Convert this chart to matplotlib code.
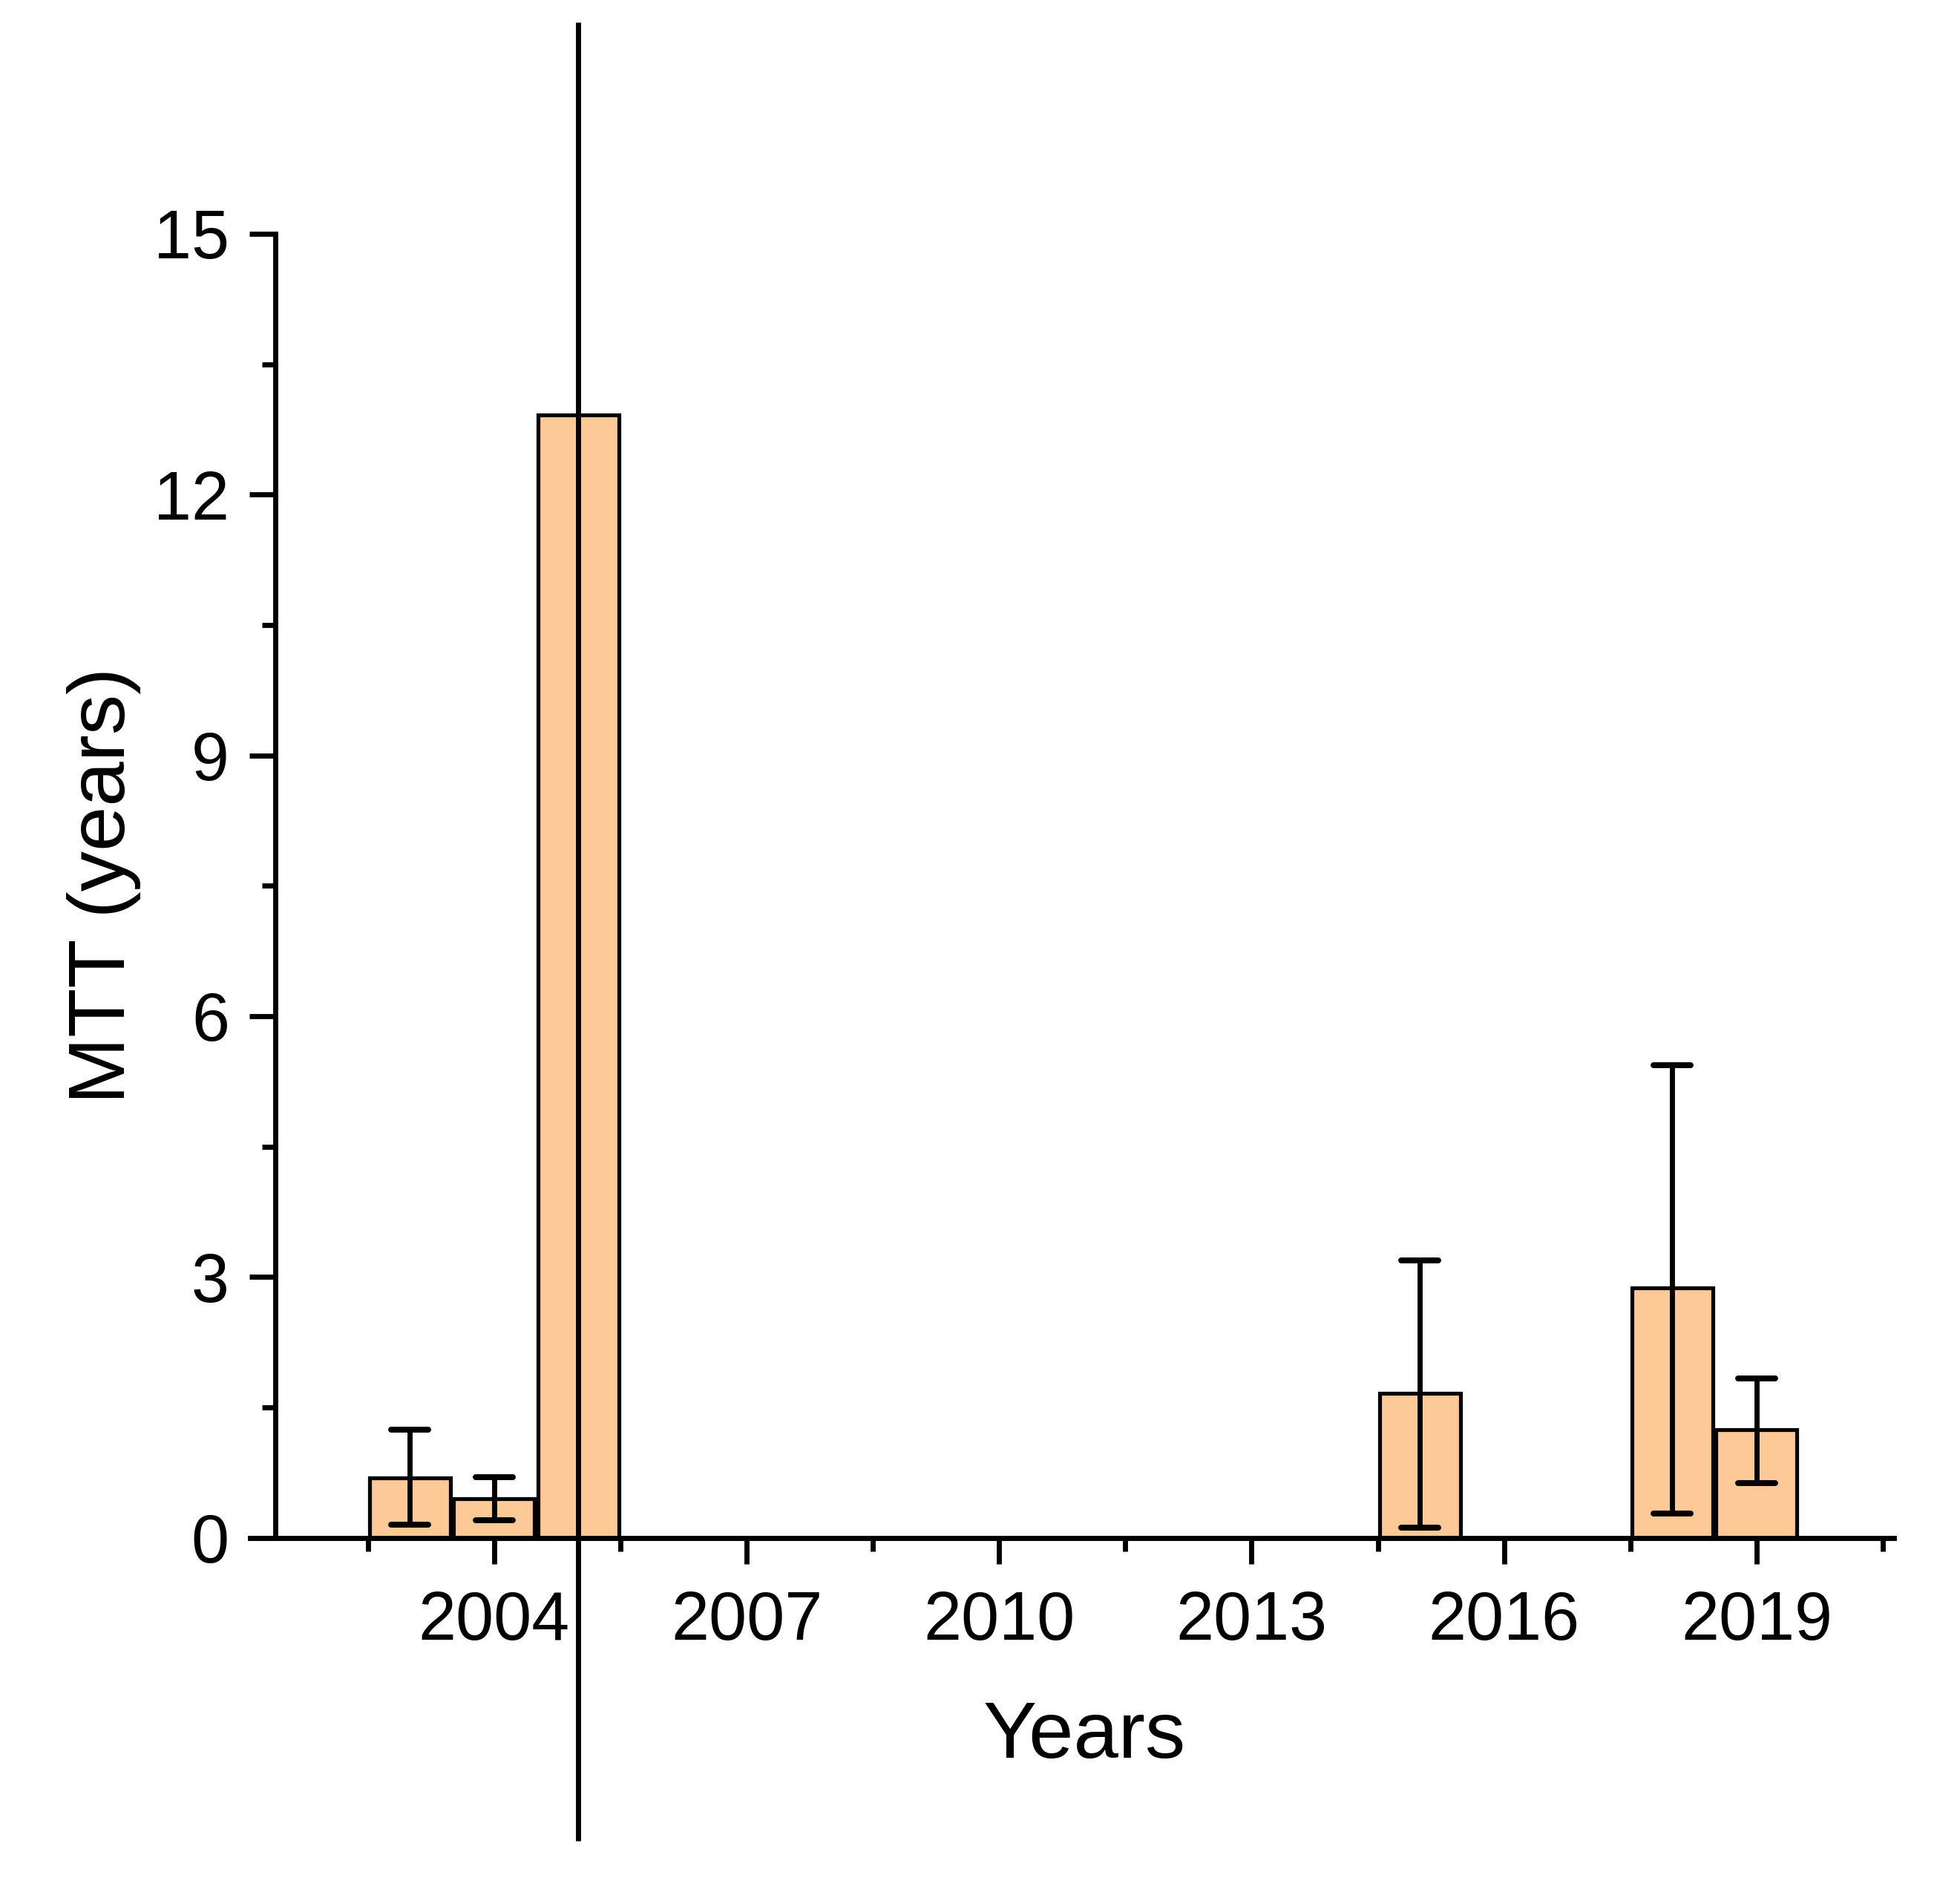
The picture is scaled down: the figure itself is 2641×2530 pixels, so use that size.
import matplotlib
matplotlib.use("Agg")
import matplotlib.pyplot as plt
from matplotlib.ticker import MultipleLocator
from matplotlib.markers import MarkerStyle
import numpy as np

plt.rcParams['font.family'] = ['Liberation Sans', 'DejaVu Sans']

years = [2003, 2004, 2005, 2015, 2018, 2019]
mtt = [0.69, 0.45, 12.92, 1.66, 2.87, 1.24]
err_low = [0.15, 0.20, -3.49, 0.12, 0.28, 0.63]
err_high = [1.24, 0.70, 17.43, 3.19, 5.44, 1.83]

xlabel = "Years"
ylabel = "MTT (years)"
bar_color = "#FDCA97"

fig = plt.figure(figsize=(2641 / 300, 2530 / 300), dpi=300)
ax = fig.add_axes([0.1276, 0.1812, 0.9662 - 0.1276, 0.8755 - 0.1812])

ax.bar(years, mtt, width=0.96, color=bar_color, edgecolor="black", linewidth=1.25, zorder=2)

y = np.array(mtt)
lo = y - np.array(err_low)
hi = np.array(err_high) - y
yrs = np.array(years)
big = y > 10
_, caps, _ = ax.errorbar(yrs[~big], y[~big], yerr=[lo[~big], hi[~big]], fmt="none", ecolor="black",
                         elinewidth=1.65, capsize=6.0, capthick=1.9, zorder=3)
for c in caps:
    c.set_marker(MarkerStyle('_', capstyle='round'))
ax.errorbar(yrs[big], y[big], yerr=[lo[big], hi[big]], fmt="none", ecolor="black",
            elinewidth=1.65, capsize=0, zorder=3, clip_on=False)

ax.set_xlim(2001.1, 2020.63)
ax.set_ylim(0, 15)
ax.spines['top'].set_visible(False)
ax.spines['right'].set_visible(False)
ax.spines['left'].set_position(('data', 2001.4))
for s in ('left', 'bottom'):
    ax.spines[s].set_linewidth(1.65)
    ax.spines[s].set_zorder(4)

ax.xaxis.set_major_locator(MultipleLocator(3))
ax.xaxis.set_minor_locator(MultipleLocator(1.5))
ax.yaxis.set_major_locator(MultipleLocator(3))
ax.yaxis.set_minor_locator(MultipleLocator(1.5))
ax.tick_params(which='major', direction='out', length=8.4, width=1.65, labelsize=22)
ax.tick_params(which='minor', direction='out', length=4.3, width=1.65)
ax.tick_params(axis='x', which='major', pad=8.5)
ax.tick_params(axis='y', which='major', pad=6.5)

ax.set_xlabel(xlabel, fontsize=26, labelpad=15)
ax.xaxis.label.set_x(0.5076)
ax.set_ylabel(ylabel, fontsize=26, labelpad=4)

fig.savefig("out.png", dpi=300)
